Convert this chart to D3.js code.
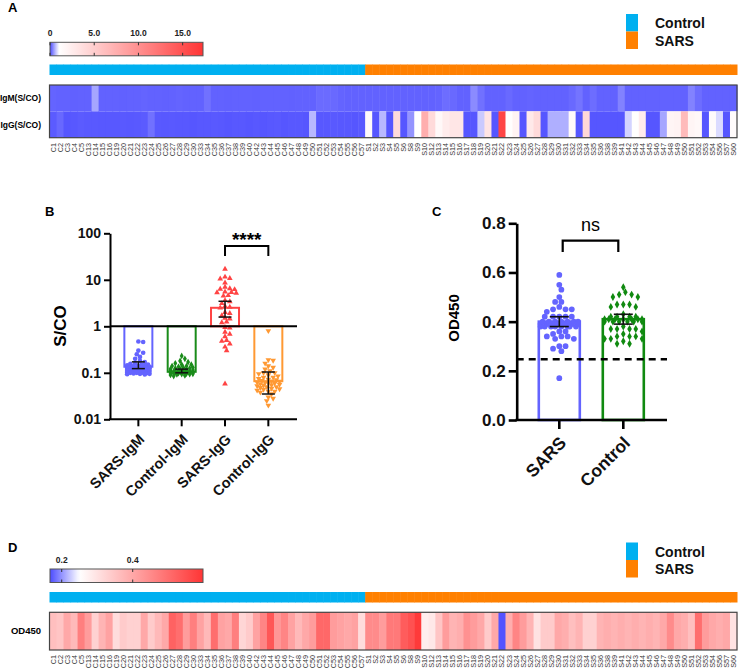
<!DOCTYPE html>
<html><head><meta charset="utf-8">
<script src="https://cdn.jsdelivr.net/npm/d3@7"></script>
<style>body{margin:0;background:#fff} svg{display:block;font-family:"Liberation Sans",Arial,Helvetica,sans-serif}</style>
</head><body><svg id="c" width="739" height="672"></svg>
<script>
// ---------------- DATA ----------------
const controlIds = ["C1","C2","C3","C4","C5","C13","C14","C15","C16","C19","C20","C21","C22","C23","C24","C25","C26","C27","C28","C29","C30","C33","C34","C35","C36","C37","C38","C39","C40","C42","C43","C44","C45","C46","C47","C48","C49","C50","C51","C52","C53","C54","C55","C56","C57"];
const sarsIds = ["S1","S2","S3","S4","S5","S6","S8","S9","S10","S12","S13","S14","S15","S16","S17","S18","S19","S20","S21","S22","S23","S24","S25","S26","S27","S28","S29","S30","S31","S32","S33","S34","S35","S36","S38","S39","S41","S42","S43","S44","S45","S46","S47","S48","S49","S50","S51","S52","S53","S54","S56","S57","S60"];
const groupNames = ["Control","SARS"];
const groupColors = ["#00b0f0","#ff8000"];

// Panel A heatmap (S/CO)
const heatRowsA = ["IgM(S/CO)","IgG(S/CO)"];
const controlIgMHeat = [0.13,0.12,0.12,0.11,0.12, 0.12,0.5,0.12,0.12,0.12, 0.11,0.12,0.12,0.13,0.12, 0.12,0.11,0.12,0.13,0.12, 0.12,0.12,0.2,0.12,0.12, 0.11,0.12,0.12,0.12,0.11, 0.12,0.12,0.12,0.12,0.11, 0.12,0.12,0.12,0.17,0.17, 0.16,0.13,0.12,0.12,0.12];
const sarsIgMHeat = [0.12,0.12,0.12,0.12,0.12,0.12,0.12,0.12,0.12,0.12, 0.13,0.18,0.16,0.12,0.12,0.35,0.2,0.12,0.12,0.12, 0.16,0.12,0.12,0.13,0.12,0.12,0.12,0.12,0.12,0.16, 0.22,0.12,0.18,0.12,0.12,0.12,0.3,0.12,0.12,0.12, 0.12,0.12,0.12,0.12,0.12,0.12,0.3,0.18,0.12,0.12, 0.12,0.12,0.12];
const controlIgGHeat = [0.08,0.15,0.05,0.06,0.08, 0.07,0.07,0.06,0.06,0.06, 0.07,0.06,0.07,0.08,0.2, 0.07,0.06,0.07,0.06,0.06, 0.05,0.06,0.06,0.07,0.06, 0.05,0.06,0.06,0.05,0.06, 0.05,0.06,0.07,0.05,0.06, 0.06,0.05,0.6,0.06,0.06, 0.07,0.06,0.06,0.05,0.07];
const sarsIgGHeat = [1.4,0.05,0.6,0.05,4, 0.05,0.4,1.0,7.5,4, 1.6,2.5,3,3,0.05, 0.05,0.7,3.2,0.05,16, 1.1,2,0.05,2.8,4, 0.05,0.55,0.55,0.55,1.5, 0.05,4.2,0.05,0.05,0.05, 0.05,0.05,0.75,1.1,2.5, 0.05,0.05,0.5,1.8,2, 6.5,1.8,1.6,0.05,1.3, 0.8,0.05,1.3];
const legendATicks = [0,5,10,15];
const legendATickLabels = ["0","5.0","10.0","15.0"];
const legendADomain = [0,1,17.3];

// Panel B (S/CO, log)
const bGroups = ["SARS-IgM","Control-IgM","SARS-IgG","Control-IgG"];
const sarsIgM = [0.47,0.46,0.3,0.27,0.25,0.22,0.2,0.18,0.17,0.16,0.155,0.15,0.15,0.145,0.14,0.14,0.14,0.135,0.135,0.13,0.13,0.13,0.13,0.125,0.125,0.125,0.12,0.12,0.12,0.12,0.115,0.115,0.115,0.11,0.11,0.11,0.11,0.105,0.105,0.105,0.1,0.1,0.1,0.1,0.098,0.097,0.095,0.095,0.093,0.092];
const controlIgM = [0.23,0.2,0.18,0.17,0.16,0.15,0.15,0.14,0.14,0.135,0.13,0.13,0.125,0.125,0.12,0.12,0.12,0.115,0.115,0.115,0.11,0.11,0.11,0.11,0.108,0.106,0.105,0.105,0.104,0.103,0.102,0.1,0.1,0.1,0.099,0.098,0.097,0.096,0.095,0.094,0.093,0.092,0.09,0.088,0.085];
const sarsIgG = [17,11.5,10.8,10.5,8.6,7,6.5,6.3,6.2,5.5,5.4,5.3,5.2,4.6,4.5,3.6,3.4,3.1,2.7,2.6,2.5,2.0,1.9,1.7,1.5,1.45,1.25,1.2,0.95,0.92,0.75,0.68,0.6,0.5,0.48,0.42,0.36,0.3,0.058];
const controlIgG = [0.8,0.19,0.185,0.16,0.14,0.13,0.12,0.11,0.1,0.1,0.095,0.09,0.085,0.08,0.08,0.075,0.072,0.07,0.068,0.066,0.065,0.063,0.062,0.06,0.06,0.058,0.056,0.055,0.054,0.052,0.05,0.05,0.048,0.046,0.045,0.044,0.042,0.04,0.04,0.038,0.035,0.03,0.028,0.025,0.02];
const bCenter = [0.135,0.105,2.5,0.066];
const bLow = [0.123,0.100,1.58,0.035];
const bHigh = [0.172,0.120,3.45,0.104];
const bColors = ["#6464ff","#1a8c1a","#ff4444","#ff9933"];
const bTicks = [0.01,0.1,1,10,100];
const bTickLabels = ["0.01","0.1","1","10","100"];

// Panel C / D (OD450)
const cGroups = ["SARS","Control"];
const odControl = [0.36,0.35,0.40,0.37,0.47, 0.42,0.33,0.38,0.41,0.31, 0.34,0.33,0.33,0.40,0.34, 0.37,0.40,0.52,0.50,0.42, 0.47,0.41,0.37,0.50,0.41, 0.40,0.47,0.32,0.34,0.41, 0.46,0.54,0.43,0.46,0.41, 0.37,0.40,0.42,0.51,0.51, 0.42,0.41,0.40,0.41,0.31];
const odSars = [0.45,0.45,0.42,0.48,0.48, 0.53,0.55,0.59,0.28,0.29, 0.35,0.42,0.38,0.39,0.44, 0.42,0.40,0.34,0.40,0.17, 0.39,0.46,0.42,0.38,0.30, 0.34,0.34,0.40,0.39,0.36, 0.38,0.33,0.33,0.38,0.39, 0.38,0.39,0.38,0.39,0.38, 0.39,0.38,0.40,0.45,0.40, 0.39,0.36,0.50,0.42,0.40, 0.39,0.40,0.30];
const cCenter = [0.40,0.41];
const cLow = [0.38,0.39];
const cHigh = [0.42,0.43];
const cColors = ["#6464ff","#108a10"];
const cTicks = [0,0.2,0.4,0.6,0.8];
const cutoffOD = 0.247;
const legendDTicks = [0.2,0.4];
const legendDTickLabels = ["0.2","0.4"];
const legendDDomain = [0.167,0.25,0.598];

// ---------------- DRAW ----------------
const svg = d3.select("#c");
const blue = "#4d4dff", white = "#ffffff", red = "#ff3535";
const sampleIds = controlIds.concat(sarsIds);
const xHeat = d3.scaleBand().domain(sampleIds).range([49.5, 737]);
const groupScale = d3.scaleOrdinal().domain(groupNames).range(groupColors);
const groupOf = id => id[0] === "C" ? "Control" : "SARS";

function heatBlock(cfg) {
  const color = d3.scaleLinear().domain(cfg.domain).range([blue, white, red]).clamp(true);
  const gid = "grad" + cfg.key;
  const grad = svg.append("defs").append("linearGradient").attr("id", gid);
  const lo = cfg.domain[0], hi = cfg.domain[2];
  d3.range(0, 1.0001, 0.02).forEach(t => {
    grad.append("stop").attr("offset", t).attr("stop-color", color(lo + t * (hi - lo)));
  });
  const lx = d3.scaleLinear().domain([lo, hi]).range([50, 203]);
  svg.append("rect").attr("x", 50).attr("y", cfg.legY).attr("width", 153).attr("height", 13.5)
    .attr("fill", `url(#${gid})`).attr("stroke", "#555").attr("stroke-width", 1);
  cfg.ticks.forEach((t, i) => {
    const x = lx(t);
    svg.append("line").attr("x1", x).attr("x2", x).attr("y1", cfg.legY).attr("y2", cfg.legY + 3).attr("stroke", "#333");
    svg.append("line").attr("x1", x).attr("x2", x).attr("y1", cfg.legY + 10.5).attr("y2", cfg.legY + 13.5).attr("stroke", "#333");
    svg.append("text").attr("x", x).attr("y", cfg.legY - 6.5).attr("text-anchor", "middle")
      .attr("font-size", 8.5).attr("font-weight", "bold").attr("fill", "#222").text(cfg.tickLabels[i]);
  });
  svg.append("g").selectAll("rect").data(sampleIds).join("rect")
    .attr("x", d => xHeat(d)).attr("width", xHeat.bandwidth() + 0.5)
    .attr("y", cfg.grpY).attr("height", 10.5).attr("fill", d => groupScale(groupOf(d)));
  const yR = d3.scaleBand().domain(cfg.rows).range(cfg.heatY);
  cfg.rows.forEach((r, ri) => {
    svg.append("g").selectAll("rect").data(cfg.values[ri]).join("rect")
      .attr("x", (d, i) => xHeat(sampleIds[i])).attr("width", xHeat.bandwidth() + 0.5)
      .attr("y", yR(r)).attr("height", yR.bandwidth()).attr("fill", d => color(d));
    svg.append("text").attr("x", 41).attr("y", yR(r) + yR.bandwidth() / 2 + 3)
      .attr("text-anchor", "end").attr("font-size", cfg.rowFont).attr("font-weight", "bold").text(r);
  });
  svg.append("rect").attr("x", 49.5).attr("y", cfg.heatY[0]).attr("width", 737 - 49.5)
    .attr("height", cfg.heatY[1] - cfg.heatY[0]).attr("fill", "none").attr("stroke", "#444").attr("stroke-width", 1.2);
  svg.append("g").selectAll("text").data(sampleIds).join("text")
    .attr("transform", d => `translate(${xHeat(d) + xHeat.bandwidth() / 2 + 2.5},${cfg.labY}) rotate(-90)`)
    .attr("text-anchor", "end").attr("font-size", 7.2).attr("fill", "#333").text(d => d);
  groupNames.forEach((g, i) => {
    svg.append("rect").attr("x", 626).attr("y", cfg.keyY + i * 17.5).attr("width", 12).attr("height", 17.5).attr("fill", groupColors[i]);
    svg.append("text").attr("x", 655).attr("y", cfg.keyY + i * 17.5 + 14).attr("font-size", 14)
      .attr("font-weight", "bold").attr("fill", "#111").text(g);
  });
  svg.append("text").attr("x", 8).attr("y", cfg.letterY).attr("font-size", 13).attr("font-weight", "bold").text(cfg.letter);
}

heatBlock({key: "A", letter: "A", letterY: 12, domain: legendADomain, ticks: legendATicks, tickLabels: legendATickLabels,
  legY: 42.3, grpY: 64.5, rows: heatRowsA, heatY: [85, 137.7], labY: 143, keyY: 14, rowFont: 8.5,
  values: [controlIgMHeat.concat(sarsIgMHeat), controlIgGHeat.concat(sarsIgGHeat)]});
heatBlock({key: "D", letter: "D", letterY: 552, domain: legendDDomain, ticks: legendDTicks, tickLabels: legendDTickLabels,
  legY: 569, grpY: 592, rows: ["OD450"], heatY: [612.3, 650], labY: 655, keyY: 542.5, rowFont: 9.5,
  values: [odControl.concat(odSars)]});

function swarm(ys, r, halfW) {
  const order = ys.map((y, i) => i).sort((a, b) => ys[a] - ys[b]);
  const placed = [], out = new Array(ys.length).fill(0);
  const step = r * 0.8, nMax = Math.ceil(halfW / step) * 2;
  for (const i of order) {
    const y = ys[i];
    let chosen = null, best = Infinity, bestX = 0;
    for (let k = 0; k <= nMax; k++) {
      const x = k === 0 ? 0 : (k % 2 ? 1 : -1) * Math.ceil(k / 2) * step;
      if (Math.abs(x) > halfW) continue;
      let ov = 0;
      for (const p of placed) { const d = Math.hypot(p.x - x, p.y - y); if (d < 2 * r) ov += 2 * r - d; }
      if (ov === 0) { chosen = x; break; }
      if (ov < best) { best = ov; bestX = x; }
    }
    if (chosen === null) chosen = bestX;
    placed.push({x: chosen, y}); out[i] = chosen;
  }
  return out;
}
function marker(g, type, x, y, size, color, rot) {
  g.append("path").attr("d", d3.symbol().type(type).size(size)())
    .attr("transform", `translate(${x},${y})${rot ? " rotate(180)" : ""}`).attr("fill", color);
}

// ---------- Panel B ----------
{
  const g = svg.append("g");
  const xB = d3.scaleBand().domain(bGroups).range([116.7, 290]);
  const yB = d3.scaleLog().domain([0.01, 100]).range([419.3, 233.3]);
  const bw = 28;
  const series = [sarsIgM, controlIgM, sarsIgG, controlIgG];
  const types = [d3.symbolCircle, d3.symbolDiamond, d3.symbolTriangle, d3.symbolTriangle];
  const sizes = [17, 13, 14, 14];
  bGroups.forEach((grp, i) => {
    const cx = xB(grp) + xB.bandwidth() / 2;
    const y1 = yB(1), yv = yB(bCenter[i]);
    g.append("rect").attr("x", cx - bw / 2).attr("y", Math.min(y1, yv)).attr("width", bw)
      .attr("height", Math.abs(yv - y1)).attr("fill", "#fff").attr("stroke", bColors[i]).attr("stroke-width", 2);
  });
  bGroups.forEach((grp, i) => {
    const cx = xB(grp) + xB.bandwidth() / 2;
    const ys = series[i].map(v => yB(v));
    const offs = swarm(ys, 2.0, 12.5);
    ys.forEach((y, j) => marker(g, types[i], cx + offs[j], y, sizes[i], bColors[i], i === 3));
  });
  bGroups.forEach((grp, i) => {
    const cx = xB(grp) + xB.bandwidth() / 2;
    const e = g.append("g").attr("stroke", "#111").attr("stroke-width", 1.5);
    e.append("line").attr("x1", cx).attr("x2", cx).attr("y1", yB(bLow[i])).attr("y2", yB(bHigh[i]));
    [bLow[i], bHigh[i]].forEach(v => e.append("line").attr("x1", cx - 6.5).attr("x2", cx + 6.5).attr("y1", yB(v)).attr("y2", yB(v)));
  });
  g.append("line").attr("x1", 110).attr("x2", 297).attr("y1", yB(1)).attr("y2", yB(1)).attr("stroke", "#000").attr("stroke-width", 2);
  const ya = g.append("g").attr("transform", "translate(110,0)")
    .call(d3.axisLeft(yB).tickValues(bTicks).tickFormat((d, i) => bTickLabels[i]).tickSize(6).tickSizeOuter(0).tickPadding(3));
  ya.select(".domain").attr("stroke-width", 2);
  ya.selectAll(".tick line").attr("stroke-width", 2);
  ya.selectAll(".tick text").attr("font-size", 14).attr("font-weight", "bold").attr("font-family", null).attr("fill", "#111");
  const xa = g.append("g").attr("transform", "translate(0,419.3)")
    .call(d3.axisBottom(xB).tickSize(7).tickSizeOuter(0));
  xa.select(".domain").remove();
  g.append("line").attr("x1", 109).attr("x2", 297).attr("y1", 419.3).attr("y2", 419.3).attr("stroke", "#000").attr("stroke-width", 2);
  xa.selectAll(".tick line").attr("stroke-width", 2);
  xa.selectAll(".tick text").attr("y", 0).attr("dy", 0).attr("transform", "translate(7,21) rotate(-45)")
    .attr("text-anchor", "end").attr("font-size", 14.5).attr("font-weight", "bold").attr("font-family", null).attr("fill", "#111");
  g.append("text").attr("transform", "translate(66,326) rotate(-90)").attr("text-anchor", "middle")
    .attr("font-size", 17).attr("font-weight", "bold").text("S/CO");
  const xa1 = xB("SARS-IgG") + xB.bandwidth() / 2, xa2 = xB("Control-IgG") + xB.bandwidth() / 2;
  g.append("path").attr("d", `M${xa1},256V246H${xa2}V256`).attr("fill", "none").attr("stroke", "#000").attr("stroke-width", 2);
  g.append("text").attr("x", (xa1 + xa2) / 2).attr("y", 246).attr("text-anchor", "middle")
    .attr("font-size", 19).attr("font-weight", "bold").text("****");
  svg.append("text").attr("x", 45).attr("y", 216).attr("font-size", 13).attr("font-weight", "bold").text("B");
}

// ---------- Panel C ----------
{
  const g = svg.append("g");
  const xC = d3.scaleBand().domain(cGroups).range([527.3, 655.3]);
  const yC = d3.scaleLinear().domain([0, 0.8]).range([420, 223.3]);
  const bw = 41;
  const series = [odSars, odControl];
  const types = [d3.symbolCircle, d3.symbolDiamond];
  cGroups.forEach((grp, i) => {
    const cx = xC(grp) + xC.bandwidth() / 2;
    g.append("rect").attr("x", cx - bw / 2).attr("y", yC(cCenter[i])).attr("width", bw)
      .attr("height", yC(0) - yC(cCenter[i])).attr("fill", "#fff").attr("stroke", cColors[i]).attr("stroke-width", 2.6);
  });
  g.append("line").attr("x1", 516.7).attr("x2", 667).attr("y1", yC(cutoffOD)).attr("y2", yC(cutoffOD))
    .attr("stroke", "#000").attr("stroke-width", 2.4).attr("stroke-dasharray", "7,5");
  cGroups.forEach((grp, i) => {
    const cx = xC(grp) + xC.bandwidth() / 2;
    const ys = series[i].map(v => yC(v));
    const offs = swarm(ys, 2.6, 19);
    ys.forEach((y, j) => marker(g, types[i], cx + offs[j], y, i === 0 ? 26 : 18, cColors[i], false));
  });
  cGroups.forEach((grp, i) => {
    const cx = xC(grp) + xC.bandwidth() / 2;
    const e = g.append("g").attr("stroke", "#111").attr("stroke-width", 1.6);
    e.append("line").attr("x1", cx).attr("x2", cx).attr("y1", yC(cLow[i])).attr("y2", yC(cHigh[i]));
    [cLow[i], cHigh[i]].forEach(v => e.append("line").attr("x1", cx - 9.5).attr("x2", cx + 9.5).attr("y1", yC(v)).attr("y2", yC(v)));
  });
  const ya = g.append("g").attr("transform", "translate(516.7,0)")
    .call(d3.axisLeft(yC).tickValues(cTicks).tickFormat(d3.format(".1f")).tickSize(8).tickSizeOuter(0).tickPadding(3));
  ya.select(".domain").attr("stroke-width", 2.6);
  ya.selectAll(".tick line").attr("stroke-width", 2.6);
  ya.selectAll(".tick text").attr("font-size", 17).attr("font-weight", "bold").attr("font-family", null).attr("fill", "#111");
  const xa = g.append("g").attr("transform", "translate(0,420)")
    .call(d3.axisBottom(xC).tickSize(9).tickSizeOuter(0));
  xa.select(".domain").remove();
  g.append("line").attr("x1", 515.5).attr("x2", 667).attr("y1", 420).attr("y2", 420).attr("stroke", "#000").attr("stroke-width", 2.6);
  xa.selectAll(".tick line").attr("stroke-width", 2.6);
  xa.selectAll(".tick text").attr("y", 0).attr("dy", 0).attr("transform", "translate(8,24) rotate(-45)")
    .attr("text-anchor", "end").attr("font-size", 17.5).attr("font-weight", "bold").attr("font-family", null).attr("fill", "#111");
  g.append("text").attr("transform", "translate(459,318) rotate(-90)").attr("text-anchor", "middle")
    .attr("font-size", 15).attr("font-weight", "bold").text("OD450");
  const x1 = 562.7, x2 = 618.3;
  g.append("path").attr("d", `M${x1},252V240.7H${x2}V252`).attr("fill", "none").attr("stroke", "#000").attr("stroke-width", 2.2);
  g.append("text").attr("x", (x1 + x2) / 2).attr("y", 231).attr("text-anchor", "middle")
    .attr("font-size", 18).text("ns");
  svg.append("text").attr("x", 432).attr("y", 216).attr("font-size", 13).attr("font-weight", "bold").text("C");
}
</script></body></html>
